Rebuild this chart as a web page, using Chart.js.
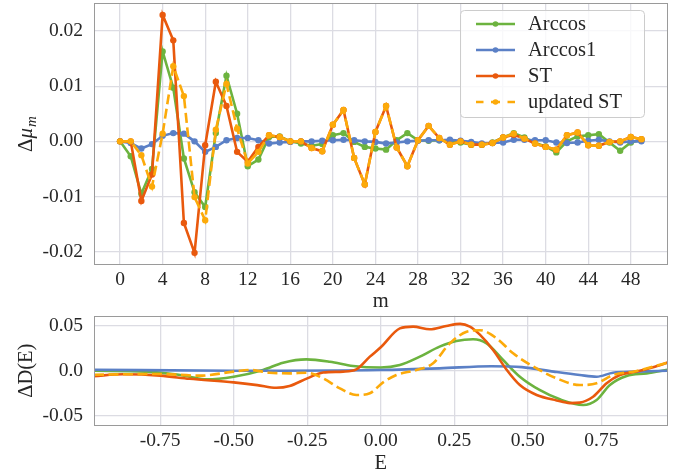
<!DOCTYPE html>
<html><head><meta charset="utf-8">
<script src="https://cdn.jsdelivr.net/npm/chart.js@4"></script>
<style>
html,body{margin:0;padding:0;background:#fff;}
#wrap{position:relative;width:685px;height:474px;overflow:hidden;background:#fff;}
canvas{position:absolute;left:0;}
</style></head><body>
<div id="wrap">
<canvas id="top" width="685" height="314" style="top:0px"></canvas>
<canvas id="bot" width="685" height="176" style="top:300px"></canvas>
</div>
<script>
// ---------- data: top panel ----------
const mVals = [0,1,2,3,4,5,6,7,8,9,10,11,12,13,14,15,16,17,18,19,20,21,22,23,24,25,26,27,28,29,30,31,32,33,34,35,36,37,38,39,40,41,42,43,44,45,46,47,48,49];
const arccos = [0,-0.0027,-0.0095,-0.005,0.0163,0.0097,-0.0031,-0.0092,-0.0119,0.0015,0.0119,0.005,-0.0045,-0.0033,0.0008,0.0009,0,-0.0004,-0.0008,-0.0005,0.0011,0.0015,-0.0001,-0.001,-0.0013,-0.0015,0.0002,0.0015,0.0002,0.0001,0.0002,0,-0.0002,-0.0006,-0.0006,-0.0002,0.0007,0.0015,0.0007,-0.0003,-0.0009,-0.002,0.0,0.0009,0.0011,0.0013,-0.0002,-0.0017,-0.0002,0.0003];
const arccos1 = [0,-0.0003,-0.0013,-0.0005,0.001,0.0015,0.0014,0,-0.0019,-0.001,0.0002,0.0006,0.0006,0.0002,-0.0004,-0.0002,-0.0001,0,0,0.0001,0.0002,0.0003,0.0002,0,-0.0001,-0.0004,-0.0002,0,0.0001,0.0002,0.0002,0.0003,0.0001,-0.0001,-0.0004,-0.0003,-0.0002,0.0003,0.0003,0.0002,0.0002,-0.0002,-0.0003,-0.0002,0.0001,0.0003,0,-0.0002,0,0];
const st = [0,0,-0.0108,-0.006,0.0229,0.0183,-0.0148,-0.0202,-0.0007,0.0108,0.0064,-0.0019,-0.0037,-0.001,0.0011,0.0008,0,0,-0.0012,-0.0018,0.003,0.0057,-0.003,-0.0078,0.0017,0.0064,-0.0011,-0.0045,0.0002,0.0028,0.0006,-0.0006,0,-0.0006,-0.0006,-0.0003,0.0007,0.0012,0.0005,-0.0004,-0.001,-0.0015,0.0011,0.0016,-0.0007,-0.0008,-0.0001,0,0.0008,0.0004];
const updatedST = [0,0,-0.0025,-0.0082,0.0014,0.0136,0.0082,-0.0101,-0.0143,0.0021,0.0104,0.0023,-0.004,-0.0019,0.0011,0.0008,0,0,-0.0012,-0.0018,0.003,0.0057,-0.003,-0.0078,0.0017,0.0064,-0.0011,-0.0045,0.0002,0.0028,0.0006,-0.0006,0,-0.0006,-0.0006,-0.0003,0.0007,0.0014,0.0005,-0.0004,-0.001,-0.0015,0.0011,0.0016,-0.0007,-0.0008,-0.0001,0,0.0008,0.0004];
const topXTicks = [0,4,8,12,16,20,24,28,32,36,40,44,48];
const topYTicks = [-0.02,-0.01,0,0.01,0.02];
const topYLabels = ['-0.02','-0.01','0.00','0.01','0.02'];

// ---------- data: bottom panel ----------
const eArccos = [-0.975,-0.8,-0.7,-0.65,-0.593,-0.5,-0.4,-0.332,-0.253,-0.173,-0.094,0.0,0.065,0.133,0.2,0.257,0.314,0.36,0.416,0.473,0.54,0.609,0.688,0.734,0.779,0.836,0.904,0.975];
const dArccos = [0.0,-0.001,-0.004,-0.0067,-0.0096,-0.0067,0.0008,0.0089,0.0126,0.010,0.0052,0.0035,0.0063,0.0156,0.0267,0.033,0.035,0.0304,0.0119,-0.0067,-0.0214,-0.0318,-0.0381,-0.0326,-0.0159,-0.0059,-0.003,0.001];
const eArccos1 = [-0.975,-0.5,0.0,0.2,0.376,0.48,0.588,0.677,0.734,0.79,0.87,0.975];
const dArccos1 = [0.001,0.0,0.0008,0.0026,0.005,0.004,-0.001,-0.0048,-0.0067,-0.0022,-0.001,0.0];
const eST = [-0.975,-0.876,-0.75,-0.65,-0.5,-0.42,-0.355,-0.31,-0.25,-0.196,-0.128,-0.083,-0.037,0.0,0.065,0.11,0.167,0.223,0.27,0.303,0.337,0.382,0.428,0.473,0.53,0.598,0.643,0.677,0.722,0.768,0.813,0.87,0.926,0.975];
const dST = [-0.006,-0.004,-0.0055,-0.009,-0.013,-0.016,-0.019,-0.017,-0.0085,-0.002,-0.001,0.0015,0.0156,0.026,0.047,0.049,0.046,0.0497,0.052,0.049,0.04,0.023,0.001,-0.016,-0.027,-0.033,-0.036,-0.0355,-0.029,-0.014,-0.0048,-0.001,0.0038,0.009];
const eUpdST = [-0.975,-0.876,-0.75,-0.616,-0.5,-0.446,-0.378,-0.31,-0.253,-0.196,-0.139,-0.083,-0.037,0.008,0.053,0.121,0.178,0.235,0.292,0.337,0.394,0.45,0.53,0.598,0.677,0.734,0.79,0.87,0.975];
const dUpdST = [-0.0045,-0.004,-0.0037,-0.0055,-0.001,0.0008,-0.0022,-0.003,-0.0022,-0.0085,-0.0196,-0.027,-0.025,-0.013,-0.0048,0.0008,0.0082,0.0304,0.0433,0.045,0.036,0.0193,0.0026,-0.0085,-0.0159,-0.014,-0.0048,-0.0003,0.009];
const botXTicks = [-0.75,-0.5,-0.25,0,0.25,0.5,0.75];
const botXLabels = ['-0.75','-0.50','-0.25','0.00','0.25','0.50','0.75'];
const botYTicks = [-0.05,0,0.05];
const botYLabels = ['-0.05','0.0','0.05'];

const seriesNames = ['Arccos','Arccos1','ST','updated ST'];
const seriesColors = ['#6cb33f','#5b80c6','#e9590d','#fcaa0a'];

// ---------- styling ----------
const FF = "'Liberation Serif','DejaVu Serif',serif";
const TXT = '#262626';
const GRID = '#dcdce3';
const SPINE = '#9a9a9a';
const TICKFONT = {family: FF, size: 19.5};
const TITLEFONT = {family: FF, size: 20.5};
const DASH = [10, 4.5];

function pts(xs, ys){ return xs.map((x,i)=>({x:x, y:ys[i]})); }

const framePlugin = {
  id:'frame',
  afterDatasetsDraw(c){
    const a=c.chartArea, ctx=c.ctx;
    ctx.save(); ctx.strokeStyle=SPINE; ctx.lineWidth=1;
    ctx.strokeRect(Math.round(a.left)+0.5, Math.round(a.top)+0.5, Math.round(a.right-a.left)-1, Math.round(a.bottom-a.top)-1);
    ctx.restore();
  }
};

const legendPlugin = {
  id:'legendBox',
  afterDraw(c){
    const ctx=c.ctx; ctx.save();
    const bx=460.5,by=10.5,bw=184,bh=107;
    ctx.beginPath(); ctx.roundRect(bx,by,bw,bh,4);
    ctx.fillStyle='rgba(255,255,255,0.8)'; ctx.fill();
    ctx.strokeStyle='#cccccc'; ctx.lineWidth=1; ctx.stroke();
    c.data.datasets.forEach((ds,i)=>{
      const y=24+i*26;
      ctx.strokeStyle=ds.borderColor; ctx.lineWidth=ds.borderWidth; ctx.lineCap='butt';
      ctx.beginPath();
      if (ds.borderDash && ds.borderDash.length){
        ctx.moveTo(476,y); ctx.lineTo(483.5,y);
        ctx.moveTo(491,y); ctx.lineTo(500,y);
        ctx.moveTo(507.5,y); ctx.lineTo(515,y);
      } else { ctx.moveTo(476,y); ctx.lineTo(515,y); }
      ctx.stroke();
      ctx.fillStyle=ds.borderColor; ctx.beginPath(); ctx.arc(495.5,y,2.8,0,2*Math.PI); ctx.fill();
      ctx.fillStyle=TXT; ctx.font=`${TITLEFONT.size}px ${FF}`; ctx.textBaseline='middle'; ctx.textAlign='left';
      ctx.fillText(ds.label,528,y+1);
    });
    ctx.restore();
  }
};

const yTitlePlugin = {
  id:'yTitleTop',
  afterDraw(c){
    const ctx=c.ctx, a=c.chartArea; ctx.save();
    ctx.translate(26,(a.top+a.bottom)/2); ctx.rotate(-Math.PI/2);
    ctx.fillStyle=TXT; ctx.textBaseline='alphabetic'; ctx.textAlign='left';
    const f1=`21px ${FF}`, f2=`italic 21px ${FF}`, f3=`italic 15px ${FF}`;
    ctx.font=f1; const w1=ctx.measureText('Δ').width;
    ctx.font=f2; const w2=ctx.measureText('μ').width;
    ctx.font=f3; const w3=ctx.measureText('m').width;
    let x=-(w1+w2+w3+1)/2; const b=6;
    ctx.font=f1; ctx.fillText('Δ',x,b); x+=w1;
    ctx.font=f2; ctx.fillText('μ',x,b); x+=w2+1;
    ctx.font=f3; ctx.fillText('m',x,b+4);
    ctx.restore();
  }
};

function mkDs(i, data, opts){
  return Object.assign({
    label: seriesNames[i], data: data,
    borderColor: seriesColors[i], backgroundColor: seriesColors[i],
    borderWidth: 2.6, pointRadius: 3.2, pointHoverRadius: 3.2, pointBorderWidth: 0,
    pointBackgroundColor: seriesColors[i], tension: 0, order: 4-i, fill:false
  }, opts||{});
}
function fitX(h){ return s=>{ s.height=h; s.paddingLeft=0; s.paddingRight=0; }; }
function fitY(s){ s.width=94; s.paddingTop=0; s.paddingBottom=0; }

// ---------- top chart ----------
new Chart(document.getElementById('top'), {
  type:'line',
  data:{ datasets:[
    mkDs(0, pts(mVals, arccos)),
    mkDs(1, pts(mVals, arccos1)),
    mkDs(2, pts(mVals, st)),
    mkDs(3, pts(mVals, updatedST), {borderDash: DASH})
  ]},
  options:{
    responsive:false, animation:false, devicePixelRatio:1,
    layout:{padding:{left:0,right:17.5,top:3,bottom:0}},
    plugins:{legend:{display:false}, tooltip:{enabled:false}},
    scales:{
      x:{type:'linear', min:-2.45, max:51.45,
        afterBuildTicks:s=>{s.ticks=topXTicks.map(v=>({value:v}));},
        afterFit:fitX(314-265),
        ticks:{font:TICKFONT, color:TXT, padding:3, maxRotation:0, autoSkip:false, callback:(v)=>String(v)},
        grid:{color:GRID, lineWidth:1.3, drawTicks:false},
        border:{display:false},
        title:{display:true, text:'m', font:TITLEFONT, color:TXT, padding:{top:0,bottom:0}}
      },
      y:{type:'linear', min:-0.0224, max:0.02503,
        afterBuildTicks:s=>{s.ticks=topYTicks.map(v=>({value:v}));},
        afterFit:fitY,
        ticks:{font:TICKFONT, color:TXT, padding:11, autoSkip:false, callback:(v,i)=>topYLabels[i]},
        grid:{color:GRID, lineWidth:1.3, drawTicks:false},
        border:{display:false}
      }
    }
  },
  plugins:[framePlugin, legendPlugin, yTitlePlugin]
});

// ---------- bottom chart ----------
new Chart(document.getElementById('bot'), {
  type:'line',
  data:{ datasets:[
    mkDs(0, pts(eArccos, dArccos), {pointRadius:0, cubicInterpolationMode:'monotone'}),
    mkDs(1, pts(eArccos1, dArccos1), {pointRadius:0, cubicInterpolationMode:'monotone'}),
    mkDs(2, pts(eST, dST), {pointRadius:0, cubicInterpolationMode:'monotone'}),
    mkDs(3, pts(eUpdST, dUpdST), {pointRadius:0, cubicInterpolationMode:'monotone', borderDash: DASH})
  ]},
  options:{
    responsive:false, animation:false, devicePixelRatio:1,
    layout:{padding:{left:0,right:17.5,top:15.7,bottom:0}},
    plugins:{legend:{display:false}, tooltip:{enabled:false}},
    scales:{
      x:{type:'linear', min:-0.975, max:0.975,
        afterBuildTicks:s=>{s.ticks=botXTicks.map(v=>({value:v}));},
        afterFit:fitX(176-125.7),
        ticks:{font:TICKFONT, color:TXT, padding:3, maxRotation:0, autoSkip:false, callback:(v,i)=>botXLabels[i]},
        grid:{color:GRID, lineWidth:1.3, drawTicks:false},
        border:{display:false},
        title:{display:true, text:'E', font:TITLEFONT, color:TXT, padding:{top:0,bottom:0}}
      },
      y:{type:'linear', min:-0.0611, max:0.0611,
        afterBuildTicks:s=>{s.ticks=botYTicks.map(v=>({value:v}));},
        afterFit:fitY,
        ticks:{font:TICKFONT, color:TXT, padding:11, autoSkip:false, callback:(v,i)=>botYLabels[i]},
        grid:{color:GRID, lineWidth:1.3, drawTicks:false},
        border:{display:false},
        title:{display:true, text:'ΔD(E)', font:TITLEFONT, color:TXT, padding:{top:14.5,bottom:0}}
      }
    }
  },
  plugins:[framePlugin]
});
</script>
</body></html>
